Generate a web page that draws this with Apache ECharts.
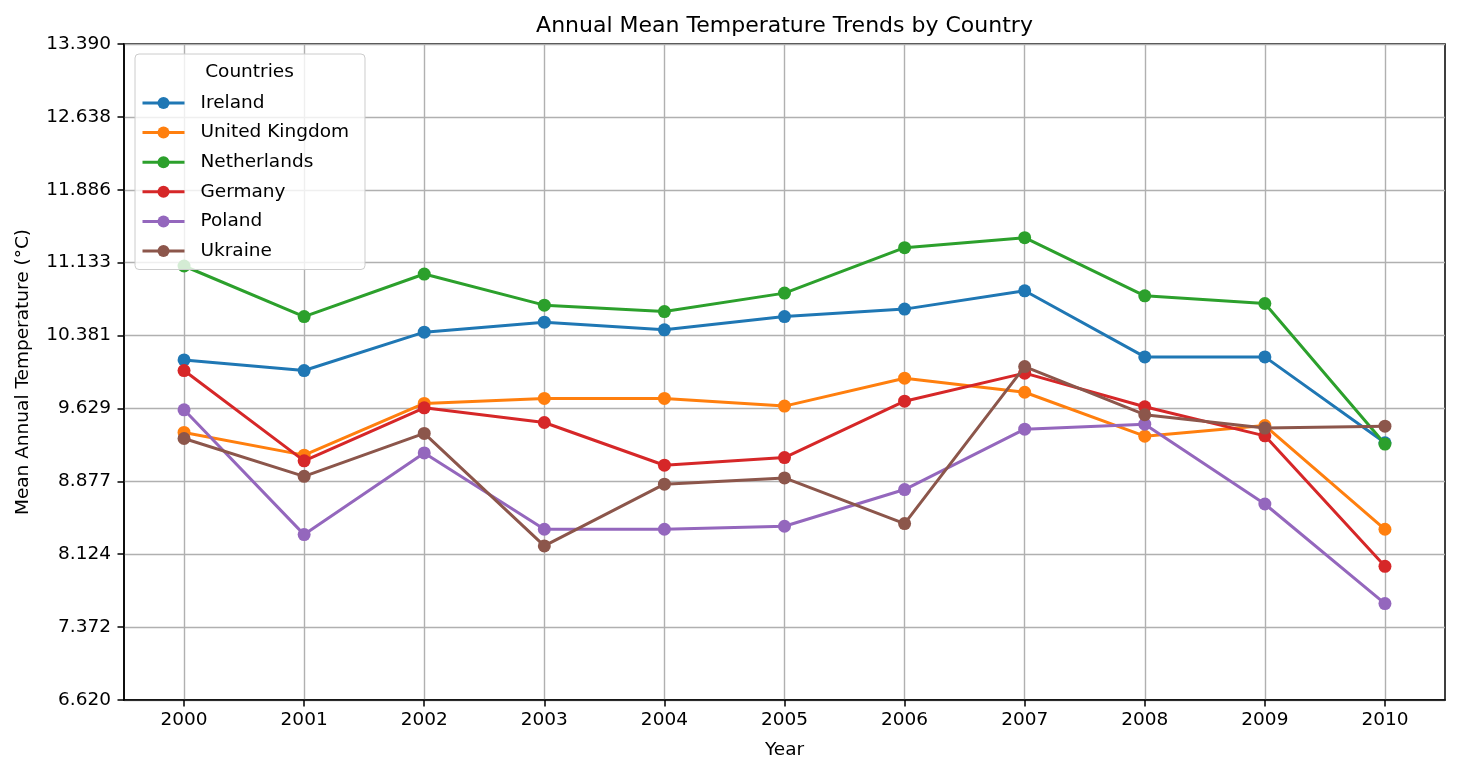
<!DOCTYPE html>
<html>
<head>
<meta charset="utf-8">
<script src="https://cdn.jsdelivr.net/npm/echarts@6/dist/echarts.min.js"></script>
<style>
html,body{margin:0;padding:0;background:#fff;}
#c{width:1460px;height:776px;}
</style>
</head>
<body>
<div id="c"></div>
<script>
const years = ['2000','2001','2002','2003','2004','2005','2006','2007','2008','2009','2010'];
const yTicks = ['6.620','7.372','8.124','8.877','9.629','10.381','11.133','11.886','12.638','13.390'];
const countries = ['Ireland','United Kingdom','Netherlands','Germany','Poland','Ukraine'];
const ireland     = [10.130, 10.020, 10.416, 10.519, 10.440, 10.577, 10.654, 10.843, 10.161, 10.161, 9.275];
const uk          = [9.381, 9.147, 9.681, 9.732, 9.732, 9.653, 9.941, 9.796, 9.343, 9.452, 8.382];
const netherlands = [11.099, 10.577, 11.016, 10.695, 10.629, 10.819, 11.288, 11.391, 10.791, 10.712, 9.261];
const germany     = [10.020, 9.088, 9.635, 9.484, 9.043, 9.122, 9.704, 9.993, 9.646, 9.346, 8.000];
const poland      = [9.615, 8.327, 9.170, 8.382, 8.382, 8.413, 8.792, 9.415, 9.467, 8.643, 7.615];
const ukraine     = [9.319, 8.928, 9.371, 8.210, 8.847, 8.912, 8.441, 10.061, 9.564, 9.426, 9.446];
const colors = ['#1f77b4','#ff7f0e','#2ca02c','#d62728','#9467bd','#8c564b'];
const seriesValues = [ireland, uk, netherlands, germany, poland, ukraine];

const FONT = 'DejaVu Sans';
const yMin = parseFloat(yTicks[0]);
const yMax = parseFloat(yTicks[yTicks.length - 1]);
const yInterval = (yMax - yMin) / (yTicks.length - 1);

const chart = echarts.init(document.getElementById('c'), null, {renderer: 'canvas'});
chart.setOption({
  animation: false,
  backgroundColor: '#ffffff',
  color: colors,
  textStyle: {fontFamily: FONT},
  title: [{
    text: 'Annual Mean Temperature Trends by Country',
    left: 784.5, textAlign: 'center', top: 13, padding: 0,
    textStyle: {fontFamily: FONT, fontSize: 22, fontWeight: 'normal', color: '#000', lineHeight: 26}
  }, {
    text: 'Countries',
    left: 249.5, textAlign: 'center', top: 61, padding: 0,
    textStyle: {fontFamily: FONT, fontSize: 18.5, fontWeight: 'normal', color: '#000', lineHeight: 22}
  }],
  legend: {
    orient: 'vertical', left: 135, top: 54,
    itemWidth: 42, itemHeight: 15, itemGap: 10.6,
    padding: [39.5, 16, 9, 6],
    backgroundColor: 'rgba(255,255,255,0.8)', borderColor: '#cccccc', borderWidth: 1, borderRadius: 4,
    lineStyle: {width: 3},
    textStyle: {fontFamily: FONT, fontSize: 18.5, color: '#000', lineHeight: 15, padding: [0, 0, 0, 11]},
    data: countries
  },
  grid: {
    left: 124, top: 44, right: 15, bottom: 76,
    show: true, borderColor: '#000', borderWidth: 1.5, backgroundColor: 'transparent',
    containLabel: false
  },
  xAxis: {
    type: 'category', data: years, boundaryGap: true,
    name: 'Year', nameLocation: 'middle', nameGap: 41,
    nameTextStyle: {fontFamily: FONT, fontSize: 18.5, color: '#000'},
    axisLine: {show: true, lineStyle: {color: '#000', width: 1.5}},
    axisTick: {show: true, alignWithLabel: true, length: 6.5, lineStyle: {color: '#000', width: 1.5}},
    axisLabel: {fontFamily: FONT, fontSize: 18.5, color: '#000', margin: 11, interval: 0},
    splitLine: {show: true, alignWithLabel: true, interval: 0, lineStyle: {color: '#b0b0b0', width: 1.4}}
  },
  yAxis: {
    type: 'value', min: yMin, max: yMax, interval: yInterval,
    name: 'Mean Annual Temperature (°C)', nameLocation: 'middle', nameGap: 91,
    nameTextStyle: {fontFamily: FONT, fontSize: 18.5, color: '#000'},
    axisLine: {show: true, lineStyle: {color: '#000', width: 1.5}},
    axisTick: {show: true, length: 6.5, lineStyle: {color: '#000', width: 1.5}},
    axisLabel: {
      fontFamily: FONT, fontSize: 18.5, color: '#000', margin: 13,
      formatter: function (v, i) { return yTicks[i] !== undefined ? yTicks[i] : v.toFixed(3); }
    },
    splitLine: {show: true, lineStyle: {color: '#b0b0b0', width: 1.4}}
  },
  series: countries.map(function (name, k) {
    return {
      name: name, type: 'line', data: seriesValues[k],
      symbol: 'circle', symbolSize: 13, showSymbol: true,
      lineStyle: {width: 3, color: colors[k]},
      itemStyle: {color: colors[k]},
      emphasis: {disabled: true},
      z: 2 + k * 0.01
    };
  })
});
</script>
</body>
</html>
